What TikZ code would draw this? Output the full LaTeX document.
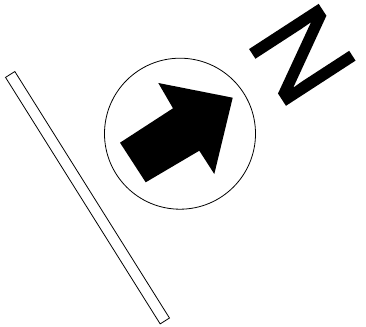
\documentclass[tikz,border=0pt]{standalone}
\usepackage{fontspec}
\setmainfont{Liberation Sans}
\newfontfamily\northfont[FakeBold=1.5]{Liberation Sans}
\usepackage{tikz}
\usetikzlibrary{positioning}

\begin{document}
\begin{tikzpicture}[
    x=1pt, y=-1pt,
    dial/.style={circle, draw=black, line width=0.8pt, minimum size=151pt, inner sep=0pt},
    letter/.style={inner sep=0pt, rotate=-57, font=\northfont\fontsize{118}{118}\selectfont},
    bar/.style={rectangle, draw=black, line width=0.8pt, minimum width=291pt, minimum height=11pt, inner sep=0pt, rotate=-57.9},
    pointer/.style={fill=black, draw=none}
]
\useasboundingbox (0,0) rectangle (366,326);

% Compass dial
\node[dial] (dial) at (180,133.7) {};

% North arrow inside the dial
\fill[pointer] (120,142.7) -- (173,108.3) -- (158.3,83) -- (232.7,97.7)
    -- (214.3,174) -- (199.3,150.7) -- (145.7,182.3) -- cycle;

% North letter
\node[letter] (north) at (302.3,54.8) {\makebox[0.58em]{N}};

% Scale bar
\node[bar] (scalebar) at (87.5,197.7) {};

\end{tikzpicture}
\end{document}
